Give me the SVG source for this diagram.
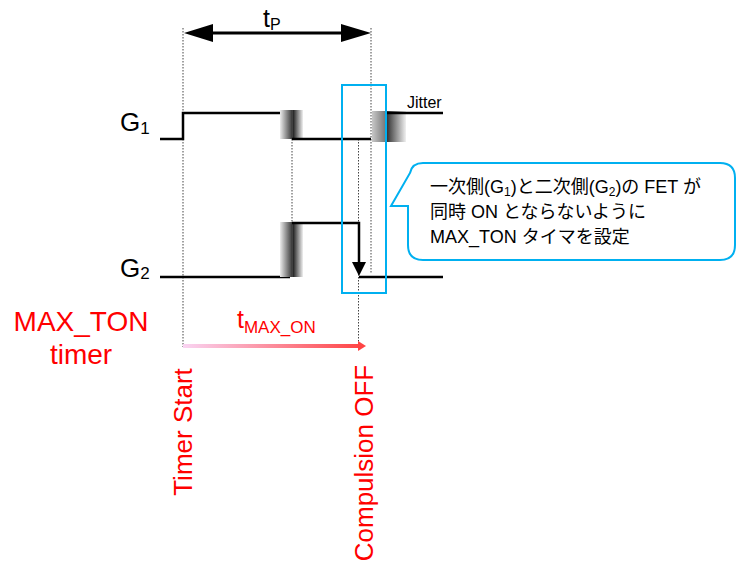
<svg xmlns="http://www.w3.org/2000/svg" width="739" height="562" viewBox="0 0 739 562">
<style>
text{font-family:"Liberation Sans",Arial,"Noto Sans CJK JP",sans-serif}
.sig{fill:none;stroke:#000;stroke-width:2.5}
.dot{fill:none;stroke:#444;stroke-width:1;stroke-dasharray:1.5,1.5}
.blue{fill:none;stroke:#00b0f0;stroke-width:2}
.red{fill:#ff0000}
</style>
<defs>
<linearGradient id="gL" x1="0" x2="1" y1="0" y2="0"><stop offset="0" stop-color="#ececec"/><stop offset="1" stop-color="#4a4a4a"/></linearGradient>
<linearGradient id="gR" x1="0" x2="1" y1="0" y2="0"><stop offset="0" stop-color="#202020"/><stop offset="1" stop-color="#f0f0f0"/></linearGradient>
<linearGradient id="gJ" x1="0" x2="1" y1="0" y2="0"><stop offset="0" stop-color="#c8c8c8"/><stop offset="1" stop-color="#7a7a7a"/></linearGradient>
<linearGradient id="gRed" gradientUnits="userSpaceOnUse" x1="183" x2="362" y1="0" y2="0"><stop offset="0" stop-color="#f9d4f2"/><stop offset="1" stop-color="#ff4444"/></linearGradient>
<marker id="ah" markerWidth="10" markerHeight="10" refX="9" refY="5" orient="auto" markerUnits="userSpaceOnUse"><path d="M0,0 L10,5 L0,10 Z" fill="#000"/></marker>
</defs>

<g id="guides">
<line class="dot" x1="183" y1="28" x2="183" y2="347"/>
<line class="dot" x1="371" y1="28" x2="371" y2="274"/>
<line class="dot" x1="292" y1="139" x2="292" y2="223"/>
<line class="dot" x1="358.5" y1="139" x2="358.5" y2="347"/>
</g>

<g id="tp">
<line x1="205" y1="33" x2="350" y2="33" stroke="#000" stroke-width="3"/>
<polygon points="184,33 213,24 213,42" fill="#000"/>
<polygon points="371,33 341,24 341,42" fill="#000"/>
<text x="263" y="27" font-size="25">t<tspan font-size="16" dy="3">P</tspan></text>
</g>

<g id="g1">
<text x="120" y="131" font-size="26">G<tspan font-size="17" dy="3">1</tspan></text>
<polyline class="sig" points="160,139 183,139 183,113 288,113"/>
<rect x="280" y="110" width="11" height="29" fill="url(#gL)"/>
<rect x="293" y="110" width="10" height="29" fill="url(#gR)"/>
<line x1="292" y1="110" x2="292" y2="139" stroke="#000" stroke-width="1.5"/>
<line class="sig" x1="292" y1="139" x2="371" y2="139"/>
<rect x="372" y="111" width="13" height="31" fill="url(#gJ)"/>
<rect x="385" y="111" width="21" height="31" fill="url(#gR)"/>
<line class="sig" x1="386" y1="113" x2="443" y2="113"/>
<text x="407" y="108" font-size="16">Jitter</text>
</g>

<g id="g2">
<text x="120" y="277" font-size="26">G<tspan font-size="17" dy="2">2</tspan></text>
<line class="sig" x1="160" y1="277" x2="290" y2="277"/>
<rect x="280" y="222" width="11" height="55" fill="url(#gL)"/>
<rect x="293" y="222" width="10" height="55" fill="url(#gR)"/>
<line x1="292" y1="222" x2="292" y2="277" stroke="#000" stroke-width="1.5"/>
<polyline class="sig" points="292,223 359,223 359,264"/>
<polygon points="352,262 366,262 359,276" fill="#000"/>
<line class="sig" x1="359" y1="277" x2="443" y2="277"/>
</g>

<g id="box">
<rect class="blue" x="342" y="85" width="44" height="208"/>
</g>

<g id="callout">
<path class="blue" fill="#fff" d="M423,163 H720 Q735,163 735,178 V245 Q735,260 720,260 H423 Q408,260 408,245 V206 H391 L410,173 Q412,163 423,163 Z"/>
<text font-size="18">
<tspan x="430" y="193">一次側(G<tspan font-size="12" dy="3">1</tspan><tspan dy="-3">)と二次側(G</tspan><tspan font-size="12" dy="3">2</tspan><tspan dy="-3">)の FET が</tspan></tspan>
<tspan x="430" y="218">同時 ON とならないように</tspan>
<tspan x="430" y="243">MAX_TON タイマを設定</tspan>
</text>
</g>

<g id="timer">
<text class="red" x="81" y="331" font-size="28" text-anchor="middle">MAX_TON</text>
<text class="red" x="81" y="364" font-size="28" text-anchor="middle">timer</text>
<text class="red" x="237" y="328" font-size="25">t<tspan font-size="17" dy="5">MAX_ON</tspan></text>
<line x1="183" y1="346" x2="360" y2="346" stroke="url(#gRed)" stroke-width="4"/>
<polygon points="358,341 366,346 358,351" fill="#ff4444"/>
<text class="red" font-size="26" text-anchor="middle" transform="translate(192,432) rotate(-90)">Timer Start</text>
<text class="red" font-size="26" text-anchor="middle" transform="translate(373,463) rotate(-90)">Compulsion OFF</text>
</g>
</svg>
